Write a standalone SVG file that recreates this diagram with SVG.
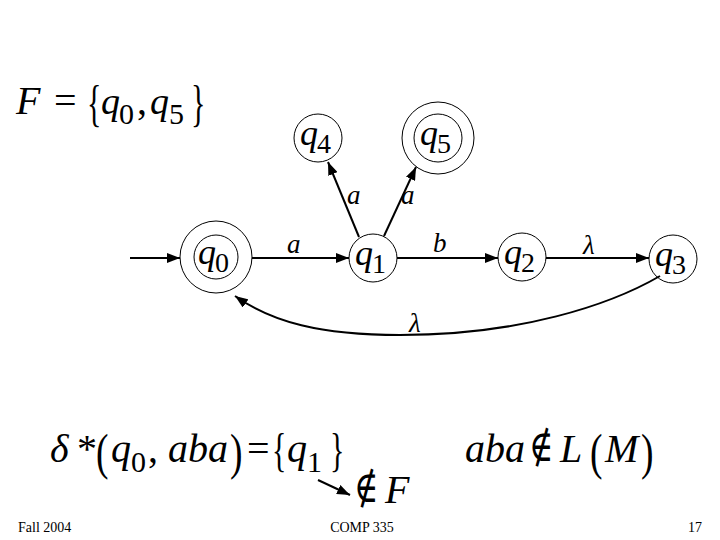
<svg xmlns="http://www.w3.org/2000/svg" width="720" height="540" viewBox="0 0 720 540">
<defs>
<style>
.st{fill:none;stroke:#000;stroke-width:1}
.ed{fill:none;stroke:#000;stroke-width:2}
.ar{marker-end:url(#arr)}
.it{font-family:"Liberation Serif","Times New Roman",serif;font-style:italic;fill:#000}
.rm{font-family:"Liberation Serif","Times New Roman",serif;fill:#000}
.q{font-size:36px}
.sub{font-size:28px;font-style:normal}
.lb{font-size:27px}
.eq{font-size:40px}
.ni{font-family:"DejaVu Serif","DejaVu Sans",serif;font-size:44px;fill:#000}
.ft{font-family:"Liberation Serif","Times New Roman",serif;font-size:14px;fill:#000}
</style>
<marker id="arr" markerUnits="userSpaceOnUse" markerWidth="14" markerHeight="10" refX="13" refY="5" orient="auto">
<path d="M0,0 L13,5 L0,10 z" fill="#000"/>
</marker>
</defs>
<rect width="720" height="540" fill="#fff"/>

<g id="finalset">
<text class="it eq" x="16" y="114">F</text>
<text class="rm eq" x="54" y="114">=</text>
<text class="rm" font-size="50" transform="translate(87,120) scale(0.6,1)">{</text>
<text class="it" font-size="38" x="101" y="114">q</text>
<text class="rm" font-size="30" x="119" y="124">0</text>
<text class="rm eq" x="137" y="114">,</text>
<text class="it" font-size="38" x="150" y="114">q</text>
<text class="rm" font-size="30" x="169" y="124">5</text>
<text class="rm" font-size="50" transform="translate(191,120) scale(0.6,1)">}</text>
</g>

<g id="connectors">
<line class="ed ar" x1="130" y1="258" x2="180" y2="258"/>
<line class="ed ar" x1="252" y1="258" x2="349" y2="258"/>
<line class="ed ar" x1="397" y1="258" x2="498" y2="258"/>
<line class="ed ar" x1="546" y1="258" x2="649" y2="258"/>
<line class="ed ar" x1="359" y1="237" x2="328" y2="162"/>
<line class="ed ar" x1="384" y1="236" x2="416" y2="167"/>
<path class="ed ar" d="M660 276 C610 305 520 335 400 335 C320 335 272 322 235 296"/>
<line class="ed ar" x1="318" y1="480" x2="350" y2="495"/>
</g>

<g id="edge-labels">
<text class="it lb" x="287" y="253">a</text>
<text class="it lb" x="433" y="252">b</text>
<text class="it lb" x="583" y="254">λ</text>
<text class="it lb" x="347" y="204">a</text>
<text class="it lb" x="401" y="204">a</text>
<text class="it lb" x="409" y="332">λ</text>
</g>

<g id="q0">
<circle class="st" cx="216" cy="257" r="36"/>
<circle class="st" cx="216" cy="257" r="22"/>
<text class="it q" x="198" y="264">q</text><text class="rm sub" x="215" y="272">0</text>
</g>
<g id="q1">
<circle class="st" cx="373" cy="258" r="24"/>
<text class="it q" x="355" y="265">q</text><text class="rm sub" x="372" y="273">1</text>
</g>
<g id="q2">
<circle class="st" cx="522" cy="257" r="24"/>
<text class="it q" x="504" y="264">q</text><text class="rm sub" x="521" y="272">2</text>
</g>
<g id="q3">
<circle class="st" cx="673" cy="259" r="24"/>
<text class="it q" x="655" y="266">q</text><text class="rm sub" x="672" y="274">3</text>
</g>
<g id="q4">
<circle class="st" cx="318" cy="138" r="24"/>
<text class="it q" x="300" y="145">q</text><text class="rm sub" x="317" y="153">4</text>
</g>
<g id="q5">
<circle class="st" cx="438" cy="138" r="36"/>
<circle class="st" cx="438" cy="138" r="24"/>
<text class="it q" x="420" y="145">q</text><text class="rm sub" x="437" y="153">5</text>
</g>

<g id="delta-eq">
<text class="it eq" x="50" y="462">δ</text>
<text class="rm eq" x="77" y="462">*</text>
<text class="rm" font-size="50" transform="translate(96,469) scale(0.75,1)">(</text>
<text class="it eq" x="111" y="462">q</text>
<text class="rm" font-size="30" x="131" y="472">0</text>
<text class="rm eq" x="148" y="462">,</text>
<text class="it eq" x="168" y="462">aba</text>
<text class="rm" font-size="50" transform="translate(230,469) scale(0.75,1)">)</text>
<text class="rm eq" x="247" y="462">=</text>
<text class="rm" font-size="46" transform="translate(272,466) scale(0.65,1)">{</text>
<text class="it eq" x="287" y="462">q</text>
<text class="rm" font-size="30" x="307" y="472">1</text>
<text class="rm" font-size="46" transform="translate(330,466) scale(0.65,1)">}</text>
</g>

<g id="notinF">
<text class="ni" transform="translate(354,502) scale(0.75,1)">∉</text>
<text class="it eq" x="385" y="503">F</text>
</g>

<g id="notinL">
<text class="it eq" x="465" y="462">aba</text>
<text class="ni" transform="translate(529,461) scale(0.75,1)">∉</text>
<text class="it eq" x="560" y="462">L</text>
<text class="rm" font-size="50" transform="translate(590,469) scale(0.75,1)">(</text>
<text class="it eq" x="605" y="462">M</text>
<text class="rm" font-size="50" transform="translate(641,469) scale(0.75,1)">)</text>
</g>

<g id="footer">
<text class="ft" x="18" y="532">Fall 2004</text>
<text class="ft" x="362" y="532" text-anchor="middle">COMP 335</text>
<text class="ft" x="702" y="532" text-anchor="end">17</text>
</g>
</svg>
